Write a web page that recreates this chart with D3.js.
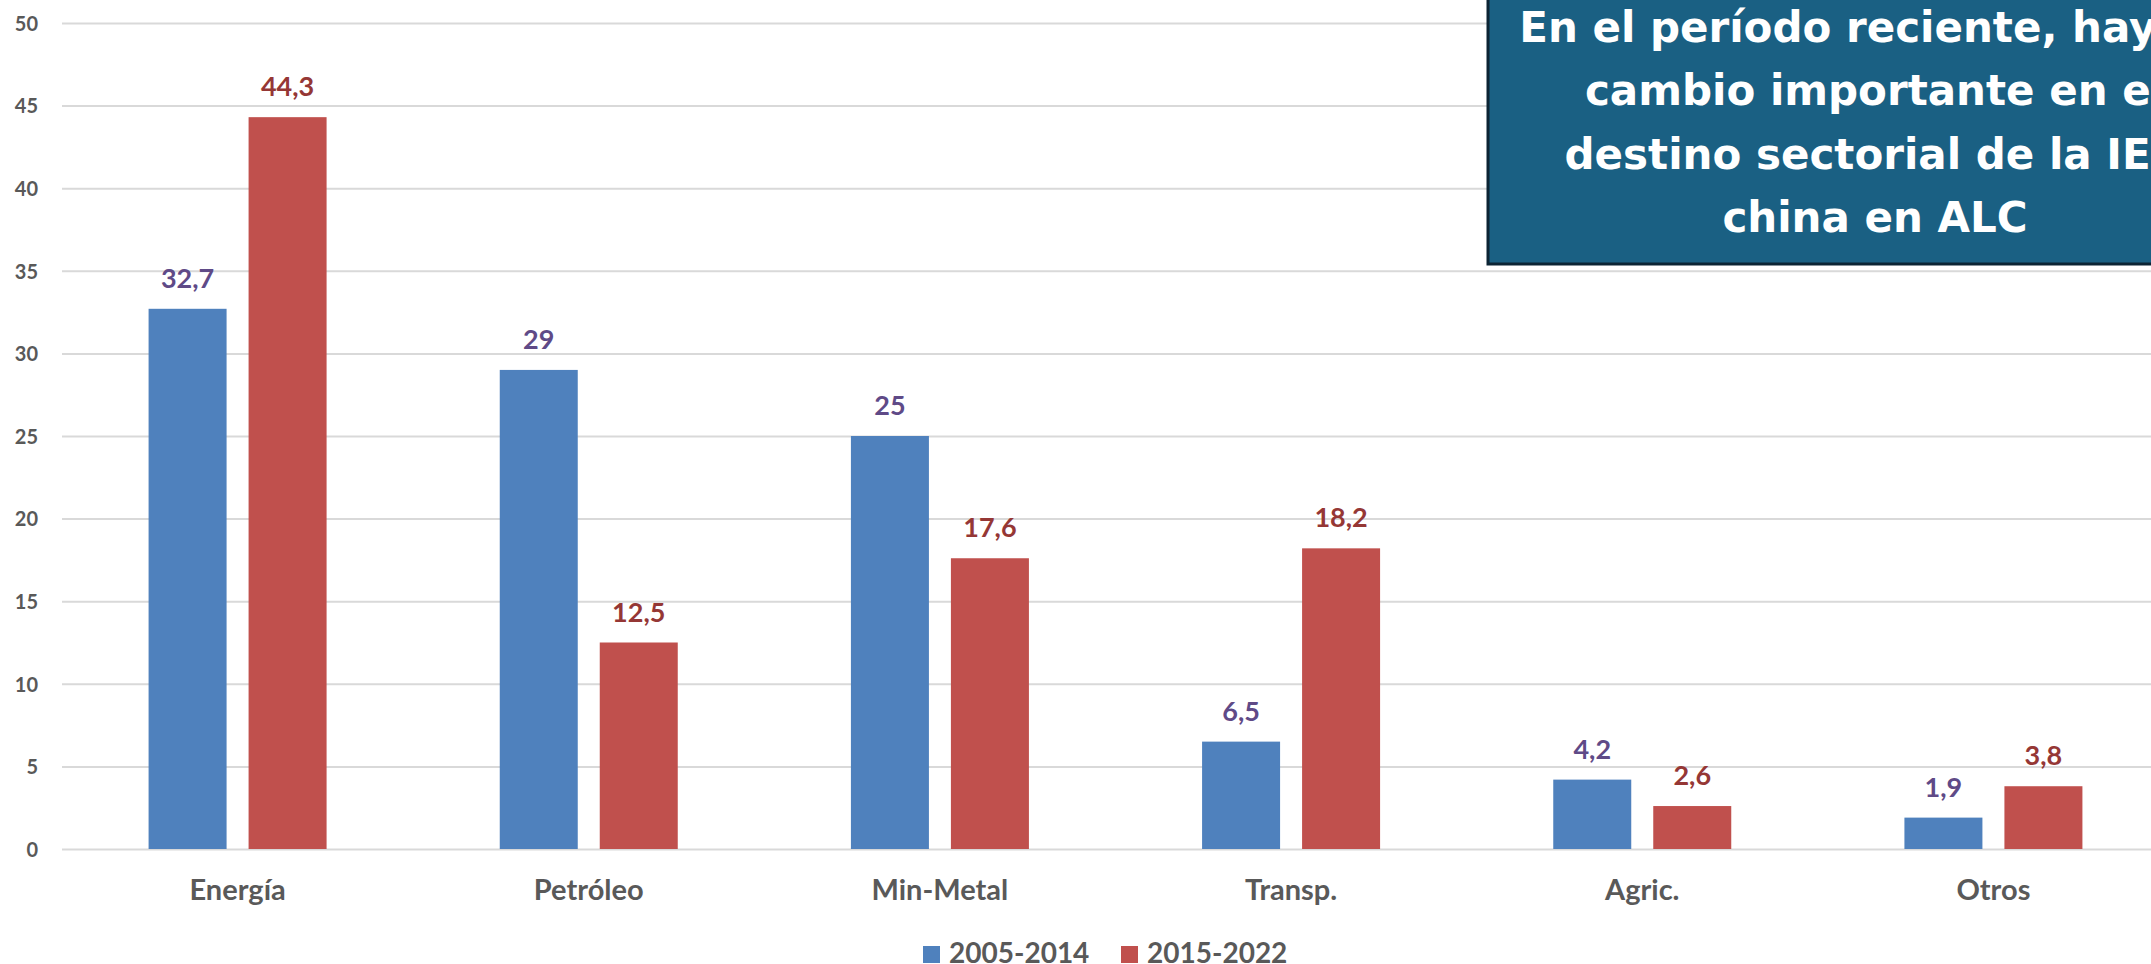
<!DOCTYPE html>
<html>
<head>
<meta charset="utf-8">
<script src="https://cdn.jsdelivr.net/npm/d3@7"></script>
<style>
  html, body { margin: 0; padding: 0; background: #ffffff; overflow: hidden; }
  svg { display: block; }
</style>
</head>
<body>
<svg id="chart" width="2151" height="964"></svg>
<script>
// ---- data ----
const categories = ["Energía", "Petróleo", "Min-Metal", "Transp.", "Agric.", "Otros"];
const seriesNames = ["2005-2014", "2015-2022"];
const values2005_2014 = [32.7, 29, 25, 6.5, 4.2, 1.9];
const values2015_2022 = [44.3, 12.5, 17.6, 18.2, 2.6, 3.8];
const yTicks = [0, 5, 10, 15, 20, 25, 30, 35, 40, 45, 50];
const titleLines = ["En el período reciente, hay un", "cambio importante en el", "destino sectorial de la IED", "china en ALC"];

const seriesValues = [values2005_2014, values2015_2022];
const barColors = ["#4F81BD", "#C0504D"];
const labelColors = ["#5F4A87", "#953735"];

const svg = d3.select("#chart");
const W = 2151, H = 964;

const x0 = d3.scaleBand().domain(categories).range([62, 2169]).padding(0);
const x1 = d3.scaleBand().domain(seriesNames).range([-89, 89]).paddingInner(0.22);
const y = d3.scaleLinear().domain([0, 50]).range([849, 23]);

// gridlines
const grid = svg.append("g")
  .attr("transform", "translate(62,0)")
  .call(d3.axisLeft(y).tickValues(yTicks).tickSize(-(W - 62 + 20)).tickFormat(""));
grid.select(".domain").remove();
grid.selectAll(".tick line").attr("stroke", "#d9d9d9").attr("stroke-width", 2);

// y tick labels
const yAxis = svg.append("g")
  .attr("transform", "translate(38,0)")
  .call(d3.axisLeft(y).tickValues(yTicks).tickSize(0).tickPadding(0).tickFormat(d3.format("d")));
yAxis.select(".domain").remove();
yAxis.selectAll("text")
  .attr("font-family", "Lato, 'Noto Sans', sans-serif")
  .attr("font-weight", "bold")
  .attr("font-size", 20)
  .attr("fill", "#595959")
  .attr("dy", "0.36em");

// bars
const groups = svg.append("g").selectAll("g")
  .data(categories)
  .join("g")
  .attr("transform", d => `translate(${x0(d) + x0.bandwidth() / 2},0)`);

seriesNames.forEach((s, si) => {
  groups.append("rect")
    .attr("x", x1(s))
    .attr("width", x1.bandwidth())
    .attr("y", (d, i) => y(seriesValues[si][i]))
    .attr("height", (d, i) => y(0) - y(seriesValues[si][i]))
    .attr("fill", barColors[si]);
  groups.append("text")
    .attr("x", x1(s) + x1.bandwidth() / 2)
    .attr("y", (d, i) => y(seriesValues[si][i]) - 21)
    .attr("text-anchor", "middle")
    .attr("font-family", "Lato, 'Noto Sans', sans-serif")
    .attr("font-weight", "bold")
    .attr("font-size", 27)
    .attr("fill", labelColors[si])
    .text((d, i) => String(seriesValues[si][i]).replace(".", ","));
});

// x axis category labels
const xAxis = svg.append("g")
  .attr("transform", "translate(0,849)")
  .call(d3.axisBottom(x0).tickSize(0).tickPadding(0));
xAxis.select(".domain").remove();
xAxis.selectAll("text")
  .attr("y", 51)
  .attr("dy", 0)
  .attr("font-family", "Lato, 'Noto Sans', sans-serif")
  .attr("font-weight", "bold")
  .attr("font-size", 29)
  .attr("fill", "#595959");

// legend
const legendX = [923, 1121];
const legend = svg.append("g");
seriesNames.forEach((s, i) => {
  legend.append("rect")
    .attr("x", legendX[i]).attr("y", 946)
    .attr("width", 17).attr("height", 17)
    .attr("fill", barColors[i]);
  legend.append("text")
    .attr("x", legendX[i] + 26).attr("y", 963)
    .attr("font-family", "Lato, 'Noto Sans', sans-serif")
    .attr("font-weight", "bold")
    .attr("font-size", 28)
    .attr("fill", "#595959")
    .text(s);
});

// title box
const box = svg.append("g");
box.append("rect")
  .attr("x", 1488).attr("y", -20)
  .attr("width", 800).attr("height", 284)
  .attr("fill", "#1A6083")
  .attr("stroke", "#0C2434")
  .attr("stroke-width", 3);
box.selectAll("text")
  .data(titleLines)
  .join("text")
  .attr("x", 1875)
  .attr("y", (d, i) => 42 + i * 63.3)
  .attr("text-anchor", "middle")
  .attr("font-family", "'DejaVu Sans', 'Open Sans', sans-serif")
  .attr("font-weight", "bold")
  .attr("font-size", 42)
  .attr("fill", "#ffffff")
  .text(d => d);
</script>
</body>
</html>
